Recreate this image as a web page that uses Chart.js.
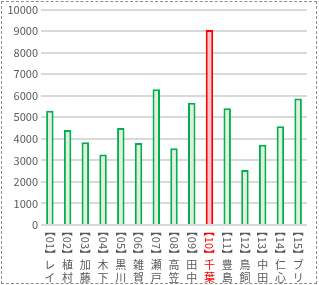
<!DOCTYPE html>
<html>
<head>
<meta charset="utf-8">
<script src="https://cdn.jsdelivr.net/npm/chart.js@4"></script>
<style>
  body { margin: 0; background: #fff; overflow: hidden; }
  #frame { position: absolute; left: 1px; top: 1px; width: 316px; height: 283px; box-sizing: border-box; border: 1px dashed #8c8c8c; }
  #wrap { position: absolute; left: 0; top: 0; width: 319px; height: 285px; }
</style>
</head>
<body>
<div id="wrap"><div id="frame"></div><canvas id="chart"></canvas></div>
<script>
// ----- data -----
const ids = ['01','02','03','04','05','06','07','08','09','10','11','12','13','14','15'];
const names = ['レイ','植村','加藤','木下','黒川','雑賀','瀬戸','高笠','田中','千葉','豊島','鳥飼','中田','仁心','ブリ'];
const values = [5300, 4410, 3840, 3270, 4500, 3810, 6300, 3560, 5680, 9050, 5420, 2550, 3720, 4590, 5870];
const yTicks = [0, 10000, 1000]; // min, max, step

const highlight = 9; // 千葉
const labelGrey = '#595959';

const borderColors = values.map((v, i) => i === highlight ? '#ff0000' : '#00b050');
const fillColors = values.map((v, i) => i === highlight ? '#ffc7ce' : '#e2efda');

// draws the vertical japanese labels under each bar
const verticalLabels = {
  id: 'verticalLabels',
  afterDraw(chart) {
    const ctx = chart.ctx;
    const xs = chart.scales.x;
    ctx.save();
    ctx.font = '11px "Noto Sans CJK JP"';
    ids.forEach((id, i) => {
      const x = xs.getPixelForValue(i);
      ctx.fillStyle = i === highlight ? '#ff0000' : labelGrey;

      // 【01】 turned sideways, glyphs packed by their ink width
      ctx.save();
      ctx.translate(x, 0);
      ctx.rotate(Math.PI / 2);
      ctx.textBaseline = 'middle';
      ctx.textAlign = 'left';
      let cur = 232.5;
      for (const c of '【' + id + '】') {
        const m = ctx.measureText(c);
        ctx.fillText(c, cur + m.actualBoundingBoxLeft, 0);
        cur += m.actualBoundingBoxLeft + m.actualBoundingBoxRight + 0.2;
      }
      ctx.restore();

      // name, one character per line
      ctx.textAlign = 'center';
      ctx.textBaseline = 'middle';
      [...names[i]].forEach((c, k) => {
        ctx.fillText(c, x, 264.5 + k * 13.5);
      });
    });
    ctx.restore();
  }
};

const chart = document.getElementById('chart').getContext('2d');
new Chart(chart, {
  type: 'bar',
  data: {
    labels: ids.map((id, i) => '【' + id + '】' + names[i]),
    datasets: [{
      data: values,
      backgroundColor: fillColors,
      borderColor: borderColors,
      borderWidth: 2,
      borderSkipped: 'start',
      categoryPercentage: 1,
      barPercentage: 0.42
    }]
  },
  options: {
    responsive: true,
    maintainAspectRatio: false,
    animation: false,
    layout: { padding: { top: 6, right: 12, left: 0, bottom: 0 } },
    plugins: { legend: { display: false }, tooltip: { enabled: false } },
    scales: {
      x: {
        grid: { display: false },
        border: { display: false },
        ticks: { display: false },
        afterFit(scale) { scale.height = 60; }
      },
      y: {
        min: yTicks[0],
        max: yTicks[1],
        ticks: {
          stepSize: yTicks[2],
          color: labelGrey,
          padding: 3,
          font: { family: '"Noto Sans CJK JP"', size: 11 },
          callback: v => String(v)
        },
        grid: { color: '#d9d9d9', lineWidth: 2, drawTicks: false },
        border: { display: false },
        afterFit(scale) { scale.width = 41; }
      }
    }
  },
  plugins: [verticalLabels]
});
</script>
</body>
</html>
